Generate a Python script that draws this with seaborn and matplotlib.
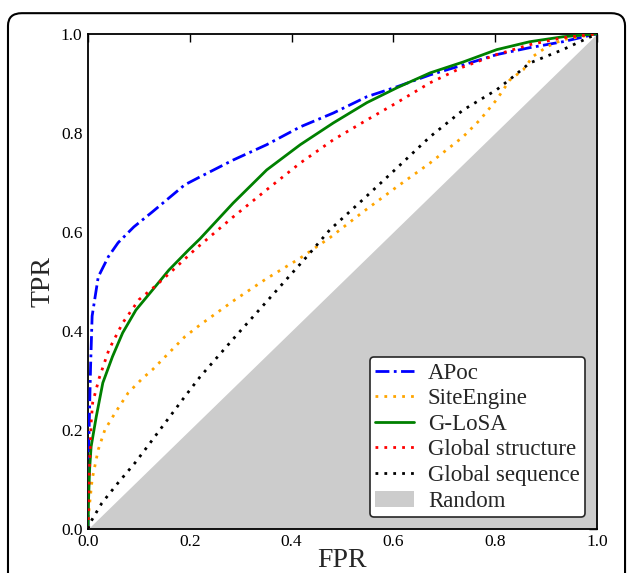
import numpy as np
import pandas as pd
import matplotlib
matplotlib.use("Agg")
import matplotlib.pyplot as plt
from matplotlib.patches import FancyBboxPatch
import seaborn as sns

# ROC curves
apoc_fpr = [0.0, 0.0, 0.002, 0.005, 0.008, 0.02, 0.04, 0.059, 0.09, 0.126, 0.19, 0.22, 0.285,
            0.351, 0.417, 0.482, 0.548, 0.607, 0.672, 0.737, 0.803, 0.868, 0.933, 1.0]
apoc_tpr = [0.0, 0.1, 0.2, 0.33, 0.43, 0.509, 0.55, 0.578, 0.61, 0.64, 0.695, 0.711, 0.745,
            0.776, 0.812, 0.84, 0.873, 0.893, 0.917, 0.937, 0.958, 0.972, 0.984, 1.0]

site_fpr = [0.0, 0.001, 0.004, 0.008, 0.02, 0.033, 0.053, 0.079, 0.108, 0.126, 0.19, 0.22,
            0.289, 0.35, 0.417, 0.475, 0.54, 0.607, 0.672, 0.737, 0.77, 0.803, 0.829, 0.855,
            0.874, 0.902, 0.933, 1.0]
site_tpr = [0.0, 0.03, 0.06, 0.10, 0.16, 0.2, 0.234, 0.275, 0.305, 0.321, 0.388, 0.412,
            0.463, 0.505, 0.547, 0.588, 0.64, 0.691, 0.739, 0.792, 0.826, 0.867, 0.907, 0.927,
            0.954, 0.974, 0.988, 1.0]

glosa_fpr = [0.0, 0.001, 0.003, 0.006, 0.016, 0.029, 0.048, 0.068, 0.094, 0.127, 0.159, 0.198,
             0.22, 0.285, 0.351, 0.417, 0.482, 0.548, 0.607, 0.672, 0.737, 0.803, 0.868,
             0.933, 1.0]
glosa_tpr = [0.0, 0.06, 0.12, 0.166, 0.226, 0.295, 0.348, 0.396, 0.442, 0.483, 0.523, 0.564,
             0.586, 0.658, 0.725, 0.776, 0.82, 0.861, 0.891, 0.921, 0.943, 0.968, 0.984,
             0.994, 1.0]

gstruct_fpr = [0.0, 0.001, 0.003, 0.006, 0.009, 0.022, 0.041, 0.068, 0.1, 0.134, 0.166, 0.212,
               0.285, 0.351, 0.417, 0.482, 0.548, 0.607, 0.672, 0.737, 0.803, 0.868, 0.933, 1.0]
gstruct_tpr = [0.0, 0.06, 0.13, 0.214, 0.255, 0.305, 0.362, 0.416, 0.463, 0.492, 0.522, 0.566,
               0.630, 0.685, 0.739, 0.786, 0.826, 0.861, 0.901, 0.933, 0.958, 0.978, 0.992, 1.0]

gseq_fpr = [0.0, 0.004, 0.027, 0.059, 0.092, 0.112, 0.19, 0.22, 0.289, 0.43, 0.475, 0.54,
            0.607, 0.672, 0.737, 0.803, 0.835, 0.868, 0.933, 1.0]
gseq_tpr = [0.0, 0.012, 0.052, 0.093, 0.133, 0.16, 0.267, 0.307, 0.388, 0.55, 0.604, 0.665,
            0.729, 0.792, 0.846, 0.887, 0.913, 0.941, 0.968, 1.0]

random_fpr = [0.0, 1.0]
random_tpr = [0.0, 1.0]

ticks = [0.0, 0.2, 0.4, 0.6, 0.8, 1.0]

sns.set_style("white")
plt.rcParams['font.family'] = ['Liberation Serif', 'DejaVu Serif']

fig = plt.figure(figsize=(6.29, 5.73), dpi=100)
ax = fig.add_axes([0.140, 0.077, 0.809, 0.864])

# outer rounded frame
fig.patches.append(FancyBboxPatch((0.0127, -0.05), 0.981, 1.027,
                                  boxstyle="round,pad=0,rounding_size=0.022",
                                  transform=fig.transFigure, fill=False,
                                  lw=1.5, ec="black", zorder=0))

ax.fill_between(random_fpr, random_tpr, 0, color="0.8", lw=0, label="Random", zorder=1)

series = [
    ("APoc", apoc_fpr, apoc_tpr, "blue", (0, (5, 1.6, 1, 1.6))),
    ("SiteEngine", site_fpr, site_tpr, "orange", (0, (1, 2.2))),
    ("G-LoSA", glosa_fpr, glosa_tpr, "green", "-"),
    ("Global structure", gstruct_fpr, gstruct_tpr, "red", (0, (1, 2.2))),
    ("Global sequence", gseq_fpr, gseq_tpr, "black", (0, (1, 2.2))),
]
for name, xs, ys, col, ls in series:
    df = pd.DataFrame({"FPR": xs, "TPR": ys})
    sns.lineplot(data=df, x="FPR", y="TPR", ax=ax, color=col, linestyle=ls, lw=2,
                 label=name, estimator=None, sort=False, zorder=3)

ax.set_xlim(0, 1)
ax.set_ylim(0, 1)
ax.set_xticks(ticks)
ax.set_yticks(ticks)
ax.set_xticklabels([f"{t:.1f}" for t in ticks])
ax.set_yticklabels([f"{t:.1f}" for t in ticks])
ax.tick_params(direction="in", top=True, right=True, length=6, width=1,
               labelsize=12.5, pad=4, colors="black")
ax.set_xlabel("FPR", fontsize=20, labelpad=-2)
ax.set_ylabel("TPR", fontsize=20, labelpad=4)
for sp in ax.spines.values():
    sp.set_linewidth(1.3)
    sp.set_color("black")

handles, labels = ax.get_legend_handles_labels()
order = ["APoc", "SiteEngine", "G-LoSA", "Global structure", "Global sequence", "Random"]
hmap = dict(zip(labels, handles))
leg = ax.legend([hmap[k] for k in order], order, loc="lower right", fontsize=16.5,
                frameon=True, fancybox=True, framealpha=1, edgecolor="0.15",
                labelspacing=0.2, handlelength=1.7, handletextpad=0.6,
                borderpad=0.25, borderaxespad=0.5)
leg.get_frame().set_linewidth(1.2)

fig.savefig("out.png", dpi=100)
